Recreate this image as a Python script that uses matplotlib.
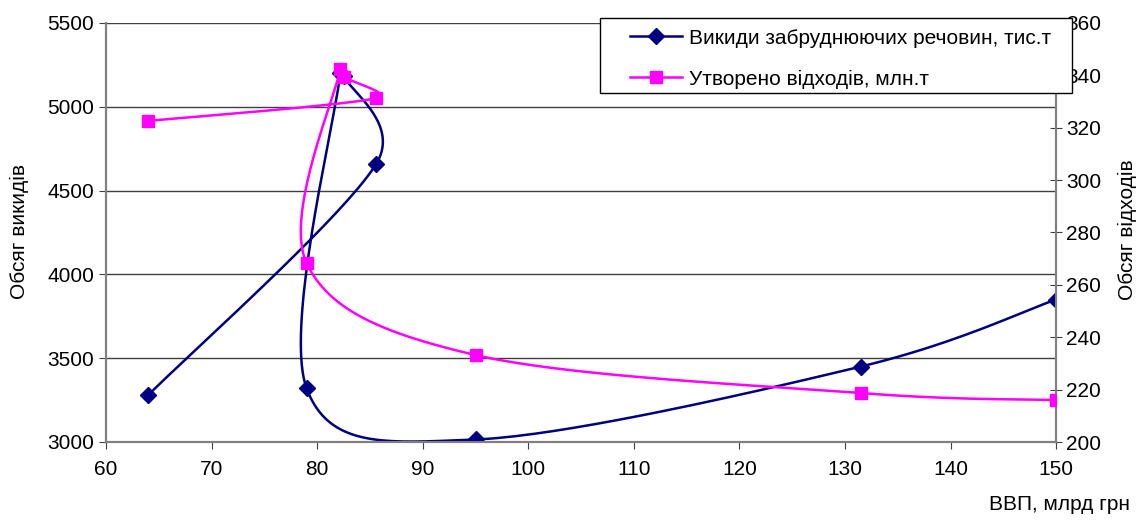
import numpy as np
import matplotlib
matplotlib.use('Agg')
import matplotlib.pyplot as plt
from matplotlib.patches import Rectangle

plt.rcParams['font.family'] = ['Liberation Sans', 'DejaVu Sans']

# GDP values (x) and the two series, in the order they are joined
gdp = [64, 85.6, 82.5, 82.2, 79, 95, 131.5, 150]
emissions = [3280, 4660, 5185, 5200, 3320, 3015, 3450, 3850]
waste = [322.6, 331.3, 339.4, 342.4, 268.3, 233.2, 218.7, 216.0]

navy = '#000080'
magenta = '#FF00FF'
fs = 15


def clamp(v, lim):
    n = np.linalg.norm(v)
    return v * (lim / n) if n > lim else v


def smooth(axis, xs, ys, n=40):
    # Excel-like smoothed line: Catmull-Rom bezier in screen space,
    # handles limited to half the segment length
    pts = axis.transData.transform(np.column_stack([xs, ys]))
    ext = np.vstack([pts[0], pts, pts[-1]])
    out = []
    t = np.linspace(0, 1, n)[:, None]
    for i in range(len(pts) - 1):
        p0 = ext[i + 1]
        p3 = ext[i + 2]
        lim = 0.5 * np.linalg.norm(p3 - p0)
        c1 = p0 + clamp((ext[i + 2] - ext[i]) / 6, lim)
        c2 = p3 - clamp((ext[i + 3] - ext[i + 1]) / 6, lim)
        seg = ((1 - t) ** 3) * p0 + 3 * ((1 - t) ** 2) * t * c1 + 3 * (1 - t) * t ** 2 * c2 + t ** 3 * p3
        out.append(seg)
    out = np.vstack(out)
    data = axis.transData.inverted().transform(out)
    return data[:, 0], data[:, 1]


fig = plt.figure(figsize=(11.38, 5.2), dpi=100)
ax = fig.add_axes([0.0932, 0.15, 0.8348, 0.8058])
ax2 = ax.twinx()

ax.set_xlim(60, 150)
ax.set_ylim(3000, 5500)
ax2.set_ylim(200, 360)
ax.set_xticks(np.arange(60, 151, 10))
ax.set_yticks(np.arange(3000, 5501, 500))
ax2.set_yticks(np.arange(200, 361, 20))

ax.grid(axis='y', color='#404040', linewidth=1)
ax.set_axisbelow(True)

for a in (ax, ax2):
    a.spines['top'].set_visible(False)
    for s in ('left', 'right', 'bottom'):
        a.spines[s].set_color('#808080')
        a.spines[s].set_linewidth(1.5)

ax.tick_params(axis='both', labelsize=fs, direction='out', length=5, color='#404040')
ax.tick_params(axis='x', pad=8)
ax2.tick_params(axis='y', labelsize=fs, direction='inout', length=8, color='#404040')

# navy series
sx, sy = smooth(ax, gdp, emissions)
ax.plot(sx, sy, color=navy, linewidth=1.8, zorder=3)
ax.plot(gdp, emissions, linestyle='none', marker='D', markersize=8, color=navy, zorder=4)

# magenta series
wx, wy = smooth(ax2, gdp, waste)
ax2.plot(wx, wy, color=magenta, linewidth=1.8, zorder=3)
ax2.plot(gdp, waste, linestyle='none', marker='s', markersize=9, color=magenta, zorder=4)

fig.text(0.0167, 0.554, 'Обсяг викидів', rotation=90, fontsize=fs, ha='center', va='center')
fig.text(0.991, 0.558, 'Обсяг відходів', rotation=90, fontsize=fs, ha='center', va='center')
fig.text(0.993, 0.012, 'ВВП, млрд грн', fontsize=fs, ha='right', va='bottom')

# legend box drawn over the right-axis labels
fig.patches.append(Rectangle((0.5272, 0.8212), 0.4148, 0.1442, transform=fig.transFigure,
                             facecolor='white', edgecolor='black', linewidth=1, zorder=5))
h1 = plt.Line2D([], [], color=navy, marker='D', markersize=8, linewidth=1.8)
h2 = plt.Line2D([], [], color=magenta, marker='s', markersize=8, linewidth=1.8)
leg = fig.legend([h1, h2], ['Викиди забруднюючих речовин, тис.т', 'Утворено відходів, млн.т'],
                 loc='upper left', bbox_to_anchor=(0.5536, 0.945), frameon=False,
                 fontsize=fs, handlelength=2.5, handletextpad=0.35, borderpad=0,
                 labelspacing=1.05, borderaxespad=0)
leg.set_zorder(6)

fig.savefig('out.png', dpi=100)
